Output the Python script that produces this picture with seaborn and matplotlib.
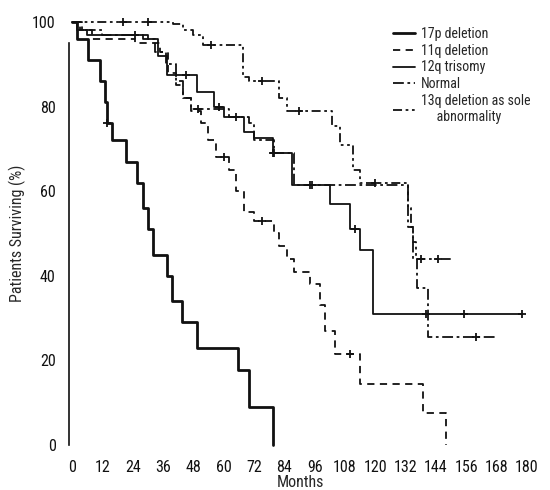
import matplotlib
matplotlib.use("Agg")
import matplotlib.pyplot as plt
from matplotlib import font_manager
from matplotlib.lines import Line2D
import numpy as np
import pandas as pd
import seaborn as sns

# Kaplan-Meier steps (months, % surviving)
groups = ['17p deletion', '11q deletion', '12q trisomy', 'Normal', '13q deletion as sole abnormality']

time_17p = [0, 2, 6.3, 11, 13, 14, 15.8, 21.5, 25.7, 28, 30, 32, 37.5, 39.5, 43.5, 49.5, 65.5, 70, 79.5]
surv_17p = [100, 96, 91, 86, 81, 76, 72, 67, 62, 56, 51, 45, 40, 34, 29, 23, 17.7, 9, 0]
end_17p = 79.5

time_11q = [0, 3, 8, 25, 35, 38, 41, 44, 47, 51, 54, 57, 62, 65, 68, 72, 80, 82, 85, 88, 94, 98, 100, 104, 114, 139, 148]
surv_11q = [100, 98, 96, 95, 93, 88, 85, 82, 79, 76, 72, 68, 65, 60, 55, 53, 50, 47, 44, 41, 38, 33, 27, 21.5, 14.5, 7.5, 0]
end_11q = 148

time_12q = [0, 2, 6, 30, 34, 37.5, 49.5, 56, 60, 68, 72, 79.5, 87, 102, 110, 114, 119]
surv_12q = [100, 98, 97, 96, 92, 87.5, 83.5, 80, 77.5, 74, 72.5, 69, 61.5, 57, 51, 46, 31]
end_12q = 178

time_norm = [0, 4, 12, 28, 33, 37, 41, 44, 47, 62, 70, 72, 80, 88, 133, 135, 136.5, 141]
surv_norm = [100, 98, 97, 96, 93, 90, 86, 82, 79.5, 77.5, 76, 72, 69, 61.5, 51.5, 44, 37, 25.5]
end_norm = 168

time_13q = [0, 40, 44, 48, 52, 67.5, 70, 82, 85, 103, 106, 111, 114, 133, 134, 135, 136]
surv_13q = [100, 99.5, 98, 97, 94.5, 87, 86, 82, 79, 75.5, 71, 65, 62, 56, 51.5, 48, 44]
end_13q = 151

# censored observations (months)
cens_17p = [14]
cens_11q = [60, 75, 110]
cens_12q = [45, 58, 79.5, 95, 112, 140, 155, 178]
cens_norm = [25, 50, 65, 80, 94, 160]
cens_13q = [20, 30, 55, 75, 90, 120, 138, 145]

x_ticks = list(range(0, 181, 12))
y_ticks = [0, 20, 40, 60, 80, 100]

series = {
    groups[0]: (time_17p, surv_17p, end_17p, cens_17p),
    groups[1]: (time_11q, surv_11q, end_11q, cens_11q),
    groups[2]: (time_12q, surv_12q, end_12q, cens_12q),
    groups[3]: (time_norm, surv_norm, end_norm, cens_norm),
    groups[4]: (time_13q, surv_13q, end_13q, cens_13q),
}

rows, crows = [], []
for g, (t, s, end, cens) in series.items():
    for ti, si in zip(t + [end], s + [s[-1]]):
        rows.append({'group': g, 'month': ti, 'pct': si})
    for c in cens:
        idx = np.searchsorted(t, c, side='right') - 1
        crows.append({'group': g, 'month': c, 'pct': s[idx]})
km = pd.DataFrame(rows)
cens_df = pd.DataFrame(crows)

# narrow font if one is around, else Roboto
installed = {f.name for f in font_manager.fontManager.ttflist}
narrow = [n for n in ['Liberation Sans Narrow', 'Roboto Condensed', 'Open Sans Condensed',
                      'Noto Sans Condensed', 'Roboto'] if n in installed]
fsize = 11.5 if narrow and narrow[0] != 'Roboto' else 10.5

sns.set_style('white')
plt.rcParams['font.family'] = narrow[:1] + ['DejaVu Sans']
plt.rcParams['font.size'] = fsize

palette = {g: '#111111' for g in groups}
dashes = {groups[0]: '', groups[1]: (4, 3), groups[2]: '',
          groups[3]: (6, 2, 1.5, 2), groups[4]: (5, 2, 1.5, 2, 1.5, 2)}
sizes = {groups[0]: 2.0, groups[1]: 1.3, groups[2]: 1.3, groups[3]: 1.3, groups[4]: 1.3}

fig = plt.figure(figsize=(5.5, 4.9), dpi=100)
ax = fig.add_axes([0.1263, 0.0832, 0.841, 0.8806])

sns.lineplot(data=km, x='month', y='pct', hue='group', style='group', size='group',
             palette=palette, dashes=dashes, sizes=sizes, estimator=None, sort=False,
             drawstyle='steps-post', legend=False, ax=ax)
sns.scatterplot(data=cens_df, x='month', y='pct', color='#111111', marker='+',
                s=40, linewidth=1.3, legend=False, ax=ax)

ax.set_xlim(-1, 182)
ax.set_ylim(-1, 101)
ax.set_xticks(x_ticks)
ax.set_yticks(y_ticks)
ax.tick_params(axis='x', length=2, width=1.5, pad=6, colors='#111111', labelsize=fsize)
ax.tick_params(axis='y', length=0, pad=10, colors='#111111', labelsize=fsize)
for side in ['top', 'right', 'bottom']:
    ax.spines[side].set_visible(False)
ax.spines['left'].set_bounds(0, 95)
ax.spines['left'].set_color('#111111')
ax.spines['left'].set_linewidth(1.2)
ax.set_xlabel('Months', labelpad=0, fontsize=fsize)
ax.set_ylabel('Patients Surviving (%)', labelpad=4, fontsize=fsize)

handles = [Line2D([0], [0], color='#111111', lw=sizes[g],
                  linestyle=(0, dashes[g]) if dashes[g] else '-') for g in groups]
labels = ['17p deletion', '11q deletion', '12q trisomy', 'Normal',
          '13q deletion as sole\n     abnormality']
ax.legend(handles, labels, loc='upper left', bbox_to_anchor=(386 / 550, 1 - 20 / 490),
          bbox_transform=fig.transFigure, frameon=False, borderpad=0,
          handlelength=1.6, handletextpad=0.4, labelspacing=0.2, fontsize=10)

fig.savefig('out.png', dpi=100)
